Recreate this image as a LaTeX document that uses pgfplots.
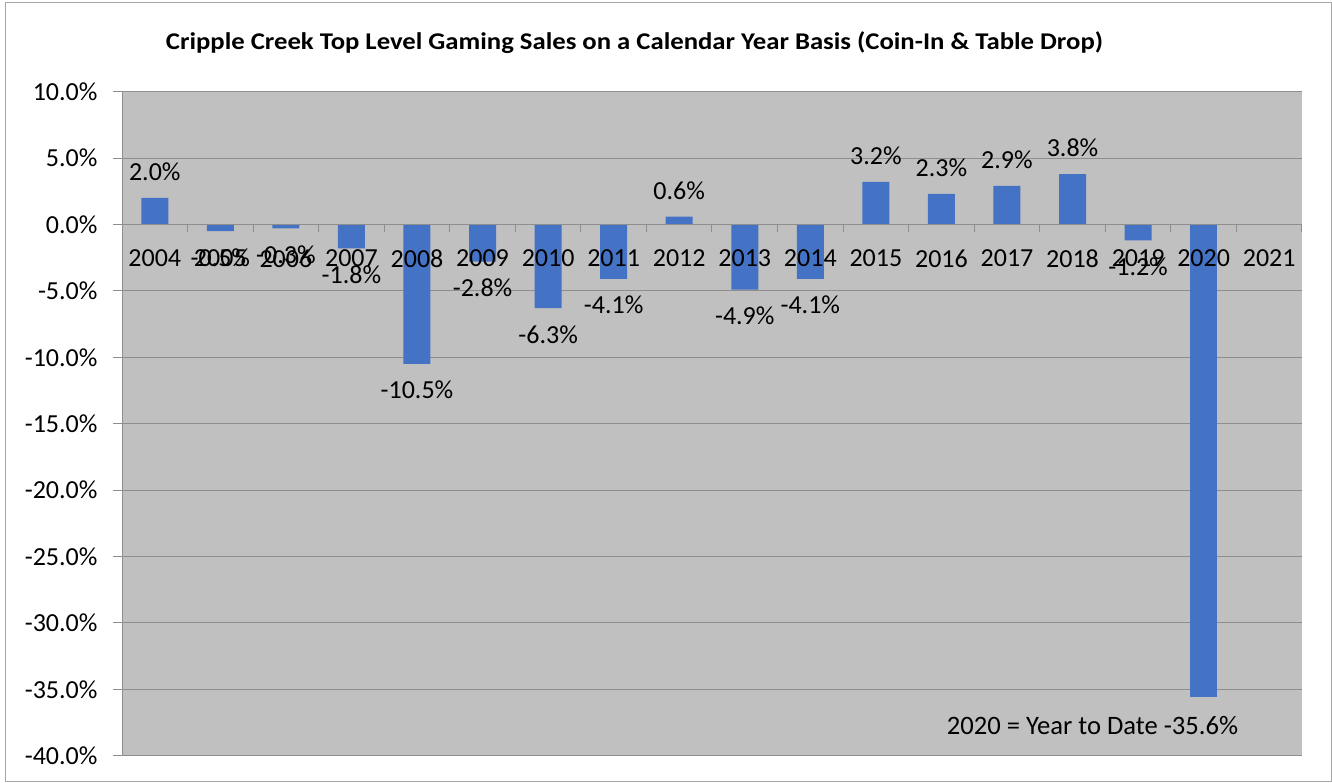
\documentclass[border=0pt]{standalone}
\usepackage{pgfplots}
\pgfplotsset{compat=1.18}
\usepackage{fontspec}
\setmainfont{Carlito}
\definecolor{plotbg}{HTML}{C0C0C0}
\definecolor{barblue}{HTML}{4472C4}
\definecolor{gridgray}{HTML}{8E8E8E}
\definecolor{framegray}{HTML}{A6A6A6}
\newcommand{\labfont}{\fontsize{26bp}{30bp}\selectfont}
\begin{document}
\begin{tikzpicture}
\begin{axis}[
  set layers=standard,
  scale only axis, width=1180bp, height=664bp,
  at={(0,0)}, anchor=south west,
  xmin=-0.5, xmax=17.5, ymin=-40, ymax=10,
  axis x line*=middle, axis y line*=left,
  axis line style={gridgray, line width=1bp},
  axis background/.style={fill=plotbg},
  ytick={-40,-35,...,10},
  ymajorgrids, grid style={gridgray, line width=1bp},
  /pgf/number format/assume math mode=true,
  yticklabel={\pgfmathprintnumber[fixed,fixed zerofill,precision=1]{\tick}\%},
  yticklabel style={font=\labfont, black, xshift=-12bp},
  ytick align=outside, major tick length=9bp,
  ytick style={gridgray, line width=1bp},
  xtick={0,...,17},
  xticklabels={2004,2005,2006,2007,2008,2009,2010,2011,2012,2013,2014,2015,2016,2017,2018,2019,2020,2021},
  xticklabel style={font=\labfont, black, yshift=-13bp},
  major x tick style={draw=none},
  minor xtick={-0.5,0.5,...,17.5},
  minor tick length=8bp,
  xtick align=outside,
  minor x tick style={gridgray, line width=1bp},
  title={\resizebox{937bp}{\height}{\fontsize{24bp}{28bp}\selectfont\bfseries Cripple Creek Top Level Gaming Sales on a Calendar Year Basis (Coin-In \& Table Drop)}},
  title style={at={(0.4343,1.0542)}, anchor=base, inner sep=0pt},
  ybar, bar width=27bp, bar shift=0pt,
  clip=false,
]
\addplot[on layer=axis ticks, fill=barblue, draw=none,
  point meta=y,
  nodes near coords={\pgfmathprintnumber[fixed,fixed zerofill,precision=1]{\pgfplotspointmeta}\%},
  nodes near coords align=vertical,
  every node near coord/.append style={font=\labfont, black, inner ysep=17bp, /pgf/number format/assume math mode=true}]
  table {
  x y
  0 2.0
  1 -0.5
  2 -0.3
  3 -1.8
  4 -10.5
  5 -2.8
  6 -6.3
  7 -4.1
  8 0.6
  9 -4.9
  10 -4.1
  11 3.2
  12 2.3
  13 2.9
  14 3.8
  15 -1.2
  };
\addplot[on layer=axis ticks, fill=barblue, draw=none] coordinates {(16,-35.6)};
\node[anchor=base west, font=\fontsize{26.6bp}{30bp}\selectfont, black, inner sep=0pt] at (axis cs:12.08,-38.4) {2020 = Year to Date -35.6\%};
\end{axis}
\draw[framegray, line width=1bp] (-116bp,-25.3bp) rectangle (1209bp,752.7bp);
\pgfresetboundingbox
\path[use as bounding box] (-122bp,-27.3bp) rectangle (1210bp,755.7bp);
\end{tikzpicture}
\end{document}
